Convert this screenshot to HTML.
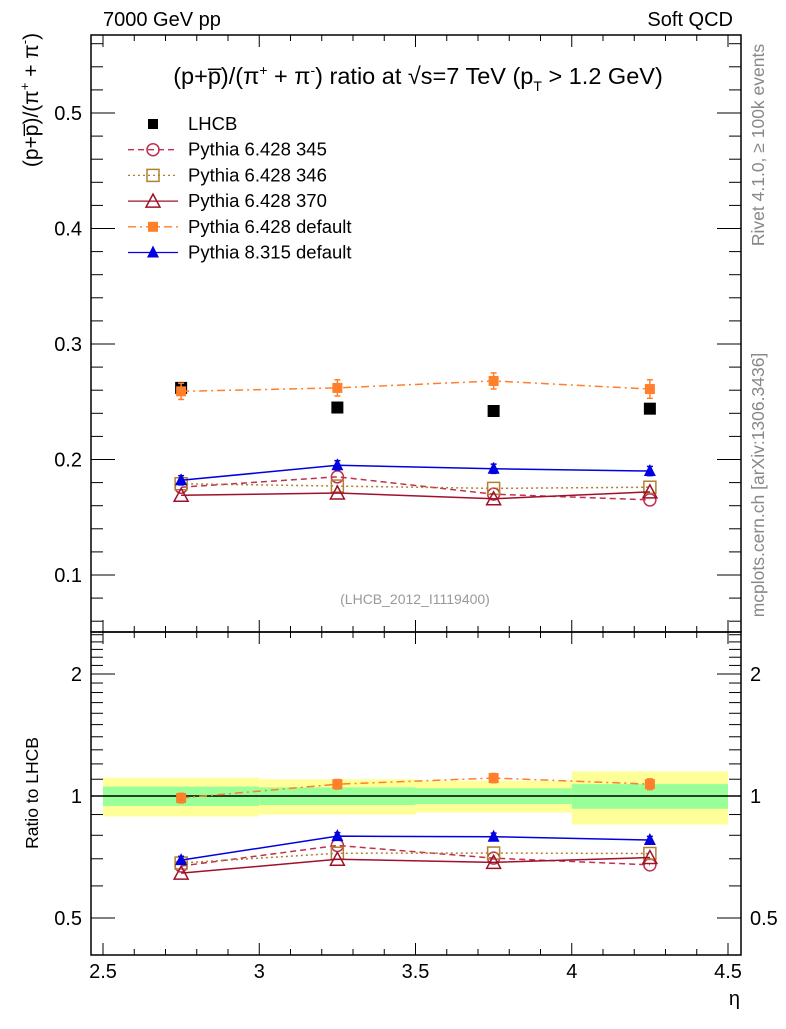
<!DOCTYPE html>
<html><head><meta charset="utf-8"><style>
body{margin:0;background:#fff;width:786px;height:1024px;overflow:hidden}
svg{font-family:"Liberation Sans",sans-serif}
</style></head><body>
<svg id="chart" width="786" height="1024" xmlns="http://www.w3.org/2000/svg">
<g id="bands"></g>
<g id="axes"></g>
<g id="marks"></g>
<text x="103" y="26" font-size="20">7000 GeV pp</text>
<text x="733" y="26" font-size="20" text-anchor="end">Soft QCD</text>
<text x="418" y="84" font-size="23.5" text-anchor="middle">(p+p̅)/(π<tspan font-size="14" dy="-9">+</tspan><tspan dy="9"> + π</tspan><tspan font-size="14" dy="-9">-</tspan><tspan dy="9">) ratio at √s=7 TeV (p</tspan><tspan font-size="14" dy="7">T</tspan><tspan dy="-7"> &gt; 1.2 GeV)</tspan></text>
<text transform="translate(38,100) rotate(-90)" font-size="21" text-anchor="middle">(p+p̅)/(π<tspan font-size="13" dy="-9">+</tspan><tspan dy="9"> + π</tspan><tspan font-size="13" dy="-9">-</tspan><tspan dy="9">)</tspan></text>
<text transform="translate(38,793) rotate(-90)" font-size="17.5" text-anchor="middle">Ratio to LHCB</text>
<text x="740" y="1005" font-size="20" text-anchor="end">η</text>
<text transform="translate(764,145) rotate(-90)" font-size="17.5" fill="#888" text-anchor="middle">Rivet 4.1.0, ≥ 100k events</text>
<text transform="translate(764,485) rotate(-90)" font-size="17.5" fill="#888" text-anchor="middle">mcplots.cern.ch [arXiv:1306.3436]</text>
<text x="415" y="604" font-size="14" fill="#999" text-anchor="middle">(LHCB_2012_I1119400)</text>
<g id="legend"></g>
</svg>
<script>
const etaCenters=[2.75,3.25,3.75,4.25];
const binEdges=[2.5,3.0,3.5,4.0,4.5];
const lhcb=[0.262,0.245,0.242,0.244];
const statErr=[0.055,0.05,0.045,0.07];
const totErr=[0.11,0.10,0.09,0.15];
const p345=[0.176,0.185,0.170,0.165];
const p346=[0.179,0.177,0.175,0.176];
const p370=[0.169,0.171,0.166,0.172];
const pdef6=[0.259,0.262,0.268,0.261];
const pdef6Err=[0.007,0.007,0.007,0.008];
const p8=[0.182,0.195,0.192,0.190];
const p8Err=[0.004,0.004,0.004,0.004];
const xTicks=[2.5,3,3.5,4,4.5];
const yTicks=[0.1,0.2,0.3,0.4,0.5];
const rTicks=[0.5,1,2];

const NS="http://www.w3.org/2000/svg";
const L=91,R=741,T=35,M=632,B=955;
const X=v=>103+(v-2.5)*312.5;
const Y=v=>575-(v-0.1)*1155;
const RY=r=>796-Math.log2(r)*122;
function mk(p,tag,a){const e=document.createElementNS(NS,tag);for(const k in a)e.setAttribute(k,a[k]);p.appendChild(e);return e;}
const axes=document.getElementById('axes'),marks=document.getElementById('marks'),bands=document.getElementById('bands'),leg=document.getElementById('legend');

for(let i=0;i<4;i++){
 const x0=X(binEdges[i]),x1=X(binEdges[i+1]);
 const y=mk(bands,'rect',{x:x0,y:RY(1+totErr[i]),width:x1-x0,height:RY(1-totErr[i])-RY(1+totErr[i]),fill:'#ffff99'});
 
 
 const g=mk(bands,'rect',{x:x0,y:RY(1+statErr[i]),width:x1-x0,height:RY(1-statErr[i])-RY(1+statErr[i]),fill:'#99ff99'});
 
 
}
mk(axes,'rect',{x:L,y:T,width:R-L,height:M-T,fill:'none',stroke:'#000','stroke-width':1.5});
mk(axes,'rect',{x:L,y:M,width:R-L,height:B-M,fill:'none',stroke:'#000','stroke-width':1.5});
mk(axes,'line',{x1:L,x2:R,y1:RY(1),y2:RY(1),stroke:'#000','stroke-width':1.5});
for(let v=2.4;v<=4.62;v+=0.1){
 const vv=Math.round(v*10)/10,x=X(vv);if(x<L||x>R)continue;
 const maj=Math.abs(vv*2-Math.round(vv*2))<1e-6,len=maj?12:6;
 [[T,1],[M,-1],[M,1],[B,-1]].forEach(([y,d])=>mk(axes,'line',{x1:x,x2:x,y1:y,y2:y+d*len,stroke:'#000'}));
}
xTicks.forEach(v=>{const t=mk(axes,'text',{x:X(v),y:978,'font-size':20,'text-anchor':'middle'});t.textContent=String(v);
 
 });
for(let k=3;k<=28;k++){const v=k*0.02,y=Y(v);if(y<T||y>M)continue;const maj=k%5==0,len=maj?24:12;
 mk(axes,'line',{x1:L,x2:L+len,y1:y,y2:y,stroke:'#000'});mk(axes,'line',{x1:R,x2:R-len,y1:y,y2:y,stroke:'#000'});}
yTicks.forEach(v=>{const t=mk(axes,'text',{x:82,y:Y(v)+7,'font-size':20,'text-anchor':'end'});t.textContent=v.toFixed(1);
 
 });
for(let k=5;k<=25;k++){const r=k/10,y=RY(r);if(y<M||y>B)continue;const maj=(k==5||k==10||k==20),len=maj?24:12;
 mk(axes,'line',{x1:L,x2:L+len,y1:y,y2:y,stroke:'#000'});mk(axes,'line',{x1:R,x2:R-len,y1:y,y2:y,stroke:'#000'});}
rTicks.forEach(v=>{[[82,'end'],[750,'start']].forEach(([x,a])=>{const t=mk(axes,'text',{x:x,y:RY(v)+7,'font-size':20,'text-anchor':a});t.textContent=String(v);
 
 });});

function marker(g,type,x,y,c){
 if(type=='sq')mk(g,'rect',{x:x-5,y:y-5,width:10,height:10,fill:c});
 else if(type=='osq')mk(g,'rect',{x:x-6,y:y-6,width:12,height:12,fill:'none',stroke:c,'stroke-width':1.5});
 else if(type=='circ')mk(g,'circle',{cx:x,cy:y,r:6,fill:'none',stroke:c,'stroke-width':1.5});
 else if(type=='otri')mk(g,'polygon',{points:`${x},${y-7} ${x-7},${y+6} ${x+7},${y+6}`,fill:'none',stroke:c,'stroke-width':1.5});
 else if(type=='tri')mk(g,'polygon',{points:`${x},${y-7} ${x-6},${y+5} ${x+6},${y+5}`,fill:c});
 else if(type=='bsq')mk(g,'rect',{x:x-6,y:y-6,width:12,height:12,fill:c});
}
const series=[
 {name:'pythia-6428-345',vals:p345,err:null,c:'#c03050',dash:'6,4',m:'circ',lab:'Pythia 6.428 345'},
 {name:'pythia-6428-346',vals:p346,err:null,c:'#b08030',dash:'2,3',m:'osq',lab:'Pythia 6.428 346'},
 {name:'pythia-6428-370',vals:p370,err:null,c:'#a0102a',dash:'',m:'otri',lab:'Pythia 6.428 370'},
 {name:'pythia-6428-default',vals:pdef6,err:pdef6Err,c:'#ff7f2a',dash:'8,4,2,4',m:'sq',lab:'Pythia 6.428 default'},
 {name:'pythia-8315-default',vals:p8,err:p8Err,c:'#0000e0',dash:'',m:'tri',lab:'Pythia 8.315 default'}];
const dg=mk(marks,'g',{});


lhcb.forEach((v,i)=>marker(dg,'bsq',X(etaCenters[i]),Y(v),'#000'));
series.forEach(s=>{
 const g=mk(marks,'g',{});
 
 
 const pts=s.vals.map((v,i)=>X(etaCenters[i])+','+Y(v)).join(' ');
 const rpts=s.vals.map((v,i)=>X(etaCenters[i])+','+RY(v/lhcb[i])).join(' ');
 [pts,rpts].forEach(p=>mk(g,'polyline',{points:p,fill:'none',stroke:s.c,'stroke-width':1.5,'stroke-dasharray':s.dash}));
 s.vals.forEach((v,i)=>{const x=X(etaCenters[i]);
  if(s.err){const e=s.err[i];
   [[Y(v-e),Y(v+e)],[RY((v-e)/lhcb[i]),RY((v+e)/lhcb[i])]].forEach(([a,b])=>{
    mk(g,'line',{x1:x,x2:x,y1:a,y2:b,stroke:s.c,'stroke-width':1.5});
    mk(g,'line',{x1:x-3,x2:x+3,y1:a,y2:a,stroke:s.c,'stroke-width':1.5});
    mk(g,'line',{x1:x-3,x2:x+3,y1:b,y2:b,stroke:s.c,'stroke-width':1.5});});}
  marker(g,s.m,x,Y(v),s.c);marker(g,s.m,x,RY(v/lhcb[i]),s.c);});
});
const ent=[{lab:'LHCB',m:'sq',c:'#000',dash:null}].concat(series);
ent.forEach((e,i)=>{const y=124+i*25.7;const g=mk(leg,'g',{});
 
 
 if(e.dash!==null)mk(g,'line',{x1:128,x2:178,y1:y,y2:y,stroke:e.c,'stroke-width':1.3,'stroke-dasharray':e.dash});
 marker(g,e.m,153,y,e.c);
 const t=mk(g,'text',{x:188,y:y+6,'font-size':18.5});t.textContent=e.lab;});
</script>
</body></html>
